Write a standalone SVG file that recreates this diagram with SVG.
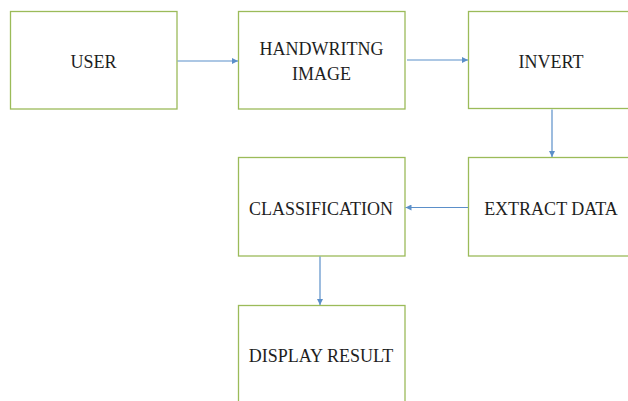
<svg xmlns="http://www.w3.org/2000/svg" width="628" height="401" viewBox="0 0 628 401">
  <defs>
    <marker id="arrow" viewBox="0 0 6 6" refX="6" refY="3" markerWidth="6" markerHeight="6" markerUnits="userSpaceOnUse" orient="auto">
      <path d="M0,0 L6,3 L0,6 Z" fill="#5b8fc9"/>
    </marker>
  </defs>
  <style>
    .box { fill: #ffffff; stroke: #9bbb59; stroke-width: 1.3; }
    .label { font-family: 'Liberation Serif', 'DejaVu Serif', serif; font-size: 18px; fill: #1e1e1e; text-anchor: middle; }
    .edge { stroke: #5b8fc9; stroke-width: 1.2; fill: none; marker-end: url(#arrow); }
  </style>
  <rect width="628" height="401" fill="#ffffff"/>

  <g id="user">
    <rect class="box" x="10.5" y="11.5" width="166.5" height="97.5"/>
    <text class="label" x="93.5" y="68">USER</text>
  </g>
  <g id="handwriting-image">
    <rect class="box" x="238.5" y="11.5" width="166.5" height="97.5"/>
    <text class="label" x="321.5" y="55">HANDWRITNG</text>
    <text class="label" x="321.5" y="80">IMAGE</text>
  </g>
  <g id="invert">
    <rect class="box" x="468.5" y="11.5" width="170" height="97"/>
    <text class="label" x="551" y="68">INVERT</text>
  </g>
  <g id="extract-data">
    <rect class="box" x="468.5" y="157.5" width="170" height="98.5"/>
    <text class="label" x="551" y="215">EXTRACT DATA</text>
  </g>
  <g id="classification">
    <rect class="box" x="238.5" y="157.5" width="166.5" height="98.5"/>
    <text class="label" x="321" y="215">CLASSIFICATION</text>
  </g>
  <g id="display-result">
    <rect class="box" x="238.5" y="305.5" width="166.5" height="110"/>
    <text class="label" x="321" y="362">DISPLAY RESULT</text>
  </g>

  <g id="connectors">
    <line class="edge" x1="177.5" y1="61" x2="238" y2="61"/>
    <line class="edge" x1="407" y1="60" x2="468" y2="60"/>
    <line class="edge" x1="552" y1="109.5" x2="552" y2="157"/>
    <line class="edge" x1="468" y1="207.5" x2="405.5" y2="207.5"/>
    <line class="edge" x1="320" y1="256.5" x2="320" y2="305"/>
  </g>
</svg>
